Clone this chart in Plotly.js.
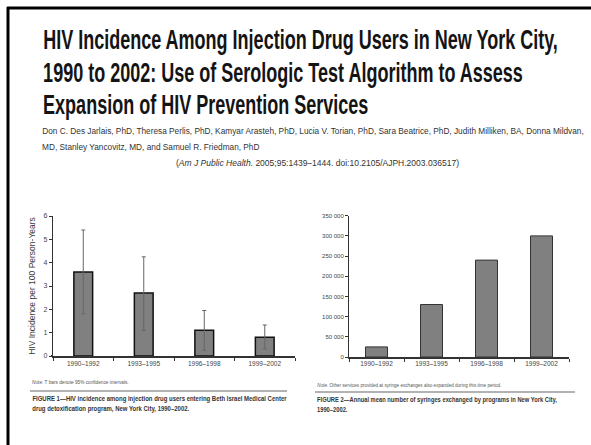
<!DOCTYPE html>
<html>
<head>
<meta charset="utf-8">
<script src="https://cdn.plot.ly/plotly-3.0.1.min.js"></script>
<style>
html,body{margin:0;padding:0;background:#fff;overflow:hidden;width:591px;height:445px;}
::-webkit-scrollbar{display:none;width:0;height:0;}
html{scrollbar-width:none;}
#chart{position:fixed;left:0;top:0;width:591px;height:445px;overflow:hidden;}
</style>
</head>
<body>
<div id="chart"></div>
<script>
// ---- Data ----
const periods = ["1990–1992", "1993–1995", "1996–1998", "1999–2002"];
const incidence = [3.6, 2.7, 1.1, 0.8];
const ciUpper = [5.4, 4.25, 1.95, 1.33];
const ciLower = [1.8, 1.1, 0.25, 0.3];
const syringes = [25000, 130000, 240000, 300000];
const incidenceTicks = [0, 1, 2, 3, 4, 5, 6];
const syringeTicks = [0, 50000, 100000, 150000, 200000, 250000, 300000, 350000];

const titleLines = [
  "HIV Incidence Among Injection Drug Users in New York City,",
  "1990 to 2002: Use of Serologic Test Algorithm to Assess",
  "Expansion of HIV Prevention Services"
];
const authorLines = [
  "Don C. Des Jarlais, PhD, Theresa Perlis, PhD, Kamyar Arasteh, PhD, Lucia V. Torian, PhD, Sara Beatrice, PhD, Judith Milliken, BA, Donna Mildvan,",
  "MD, Stanley Yancovitz, MD, and Samuel R. Friedman, PhD"
];
const citation = "(<i>Am J Public Health.</i> 2005;95:1439–1444. doi:10.2105/AJPH.2003.036517)";
const note1 = "<i>Note.</i> T bars denote 95% confidence intervals.";
const note2 = "<i>Note.</i> Other services provided at syringe exchanges also expanded during this time period.";
const caption1 = ["FIGURE 1—HIV incidence among injection drug users entering Beth Israel Medical Center",
                  "drug detoxification program, New York City, 1990–2002."];
const caption2 = ["FIGURE 2—Annual mean number of syringes exchanged by programs in New York City,",
                  "1990–2002."];

// ---- Layout helpers ----
const W = 591, H = 445;
const px = x => x / W;
const py = y => 1 - y / H;
const sans = "Liberation Sans, Arial, sans-serif";

const errPlus = incidence.map((v, i) => ciUpper[i] - v);
const errMinus = incidence.map((v, i) => v - ciLower[i]);

const traces = [
  {
    type: "bar", x: periods, y: incidence, xaxis: "x", yaxis: "y", width: 0.31,
    marker: {color: "#808080", line: {color: "#111", width: 1.5}},
    error_y: {type: "data", symmetric: false, array: errPlus, arrayminus: errMinus,
              color: "#666", thickness: 1, width: 2},
    hoverinfo: "skip"
  },
  {
    type: "bar", x: periods, y: syringes, xaxis: "x2", yaxis: "y2", width: 0.4,
    marker: {color: "#808080", line: {color: "#333", width: 1}},
    hoverinfo: "skip"
  }
];

const axisCommon = {
  showgrid: false, zeroline: false, showline: true, linecolor: "#333",
  ticks: "outside", ticklen: 3, tickcolor: "#333", fixedrange: true,
  tickfont: {family: sans, size: 6.5, color: "#444"}
};

// condensed groups: annotations in a group share one horizontal scale so that
// the first line of the group spans the given pixel width
const annotations = [];
const groups = {};
function addAnn(opts, group, targetWidth) {
  const idx = annotations.length;
  annotations.push(Object.assign({xref: "paper", yref: "paper", showarrow: false,
    xanchor: "left", yanchor: "middle"}, opts));
  if (group) {
    if (!groups[group]) groups[group] = {members: [], target: null, ref: null};
    groups[group].members.push(idx);
    if (targetWidth) { groups[group].target = targetWidth; groups[group].ref = idx; }
  }
}

titleLines.forEach((t, i) => addAnn({
  text: "<b>" + t + "</b>", x: px(41), y: py([39, 72, 104][i]),
  font: {family: sans, size: 28, color: "#141414"}
}, "title", i === 0 ? 515 : null));
authorLines.forEach((t, i) => addAnn({
  text: t, x: px(40), y: py([131, 146][i]),
  font: {family: sans, size: 9.5, color: "#333"}
}, "authors", i === 0 ? 542 : null));
addAnn({text: citation, x: px(318), y: py(163), xanchor: "center",
  font: {family: sans, size: 8.5, color: "#333"}});
addAnn({text: note1, x: px(30), y: py(382), font: {family: sans, size: 6, color: "#555"}}, "note1", 97);
addAnn({text: note2, x: px(315), y: py(385), font: {family: sans, size: 6, color: "#555"}}, "note2", 185);
caption1.forEach((t, i) => addAnn({
  text: "<b>" + t + "</b>", x: px(30), y: py([398, 408][i]),
  font: {family: sans, size: 7.5, color: "#333"}
}, "cap1", i === 0 ? 255 : null));
caption2.forEach((t, i) => addAnn({
  text: "<b>" + t + "</b>", x: px(315), y: py([399, 409][i]),
  font: {family: sans, size: 7.5, color: "#333"}
}, "cap2", i === 0 ? 240 : null));

const shapes = [
  {type: "line", xref: "paper", yref: "paper", x0: px(7), x1: 1, y0: py(8), y1: py(8), line: {color: "#000", width: 3}},
  {type: "line", xref: "paper", yref: "paper", x0: px(8), x1: px(8), y0: py(7), y1: 0, line: {color: "#000", width: 3}},
  {type: "line", xref: "paper", yref: "paper", x0: px(30), x1: px(287), y0: py(391), y1: py(391), line: {color: "#999", width: 1.5}},
  {type: "line", xref: "paper", yref: "paper", x0: px(315), x1: px(575), y0: py(392), y1: py(392), line: {color: "#999", width: 1.5}},
  {type: "line", xref: "paper", yref: "paper", x0: px(51), x1: px(53), y0: py(356), y1: py(356), line: {color: "#333", width: 2}}
];

const layout = {
  width: W, height: H, margin: {l: 0, r: 0, t: 0, b: 0},
  paper_bgcolor: "#fff", plot_bgcolor: "rgba(0,0,0,0)",
  showlegend: false, separators: ". ",
  xaxis: Object.assign({}, axisCommon, {domain: [px(53), px(295)], anchor: "y",
    tickson: "boundaries", linewidth: 2, range: [-0.5, 3.5]}),
  yaxis: Object.assign({}, axisCommon, {domain: [py(356), py(216)], anchor: "x",
    range: [0, 6], tickvals: incidenceTicks, linewidth: 1.2,
    tickfont: {family: sans, size: 7, color: "#444"},
    title: {text: "HIV Incidence per 100 Person-Years", font: {family: sans, size: 8.5, color: "#3a3a3a"}, standoff: 6}}),
  xaxis2: Object.assign({}, axisCommon, {domain: [px(349), px(569)], anchor: "y2",
    tickson: "boundaries", linewidth: 1.5, range: [-0.5, 3.5]}),
  yaxis2: Object.assign({}, axisCommon, {domain: [py(357), py(215.7)], anchor: "x2",
    range: [0, 350000], tickvals: syringeTicks, tickformat: ",d", linewidth: 1,
    tickfont: {family: sans, size: 6, color: "#444"}}),
  annotations: annotations, shapes: shapes
};

Plotly.newPlot("chart", traces, layout, {staticPlot: true, displayModeBar: false}).then(gd => {
  const nodes = {};
  gd.querySelectorAll(".annotation").forEach(g => {
    nodes[+g.getAttribute("data-index")] = g.querySelector("text.annotation-text");
  });
  Object.values(groups).forEach(grp => {
    const refNode = nodes[grp.ref];
    if (!refNode) return;
    const s = grp.target / refNode.getBBox().width;
    grp.members.forEach(i => {
      const t = nodes[i];
      if (!t) return;
      const bx = t.getBBox().x;
      t.setAttribute("transform", `translate(${bx},0) scale(${s},1) translate(${-bx},0)`);
    });
  });
});
</script>
</body>
</html>
